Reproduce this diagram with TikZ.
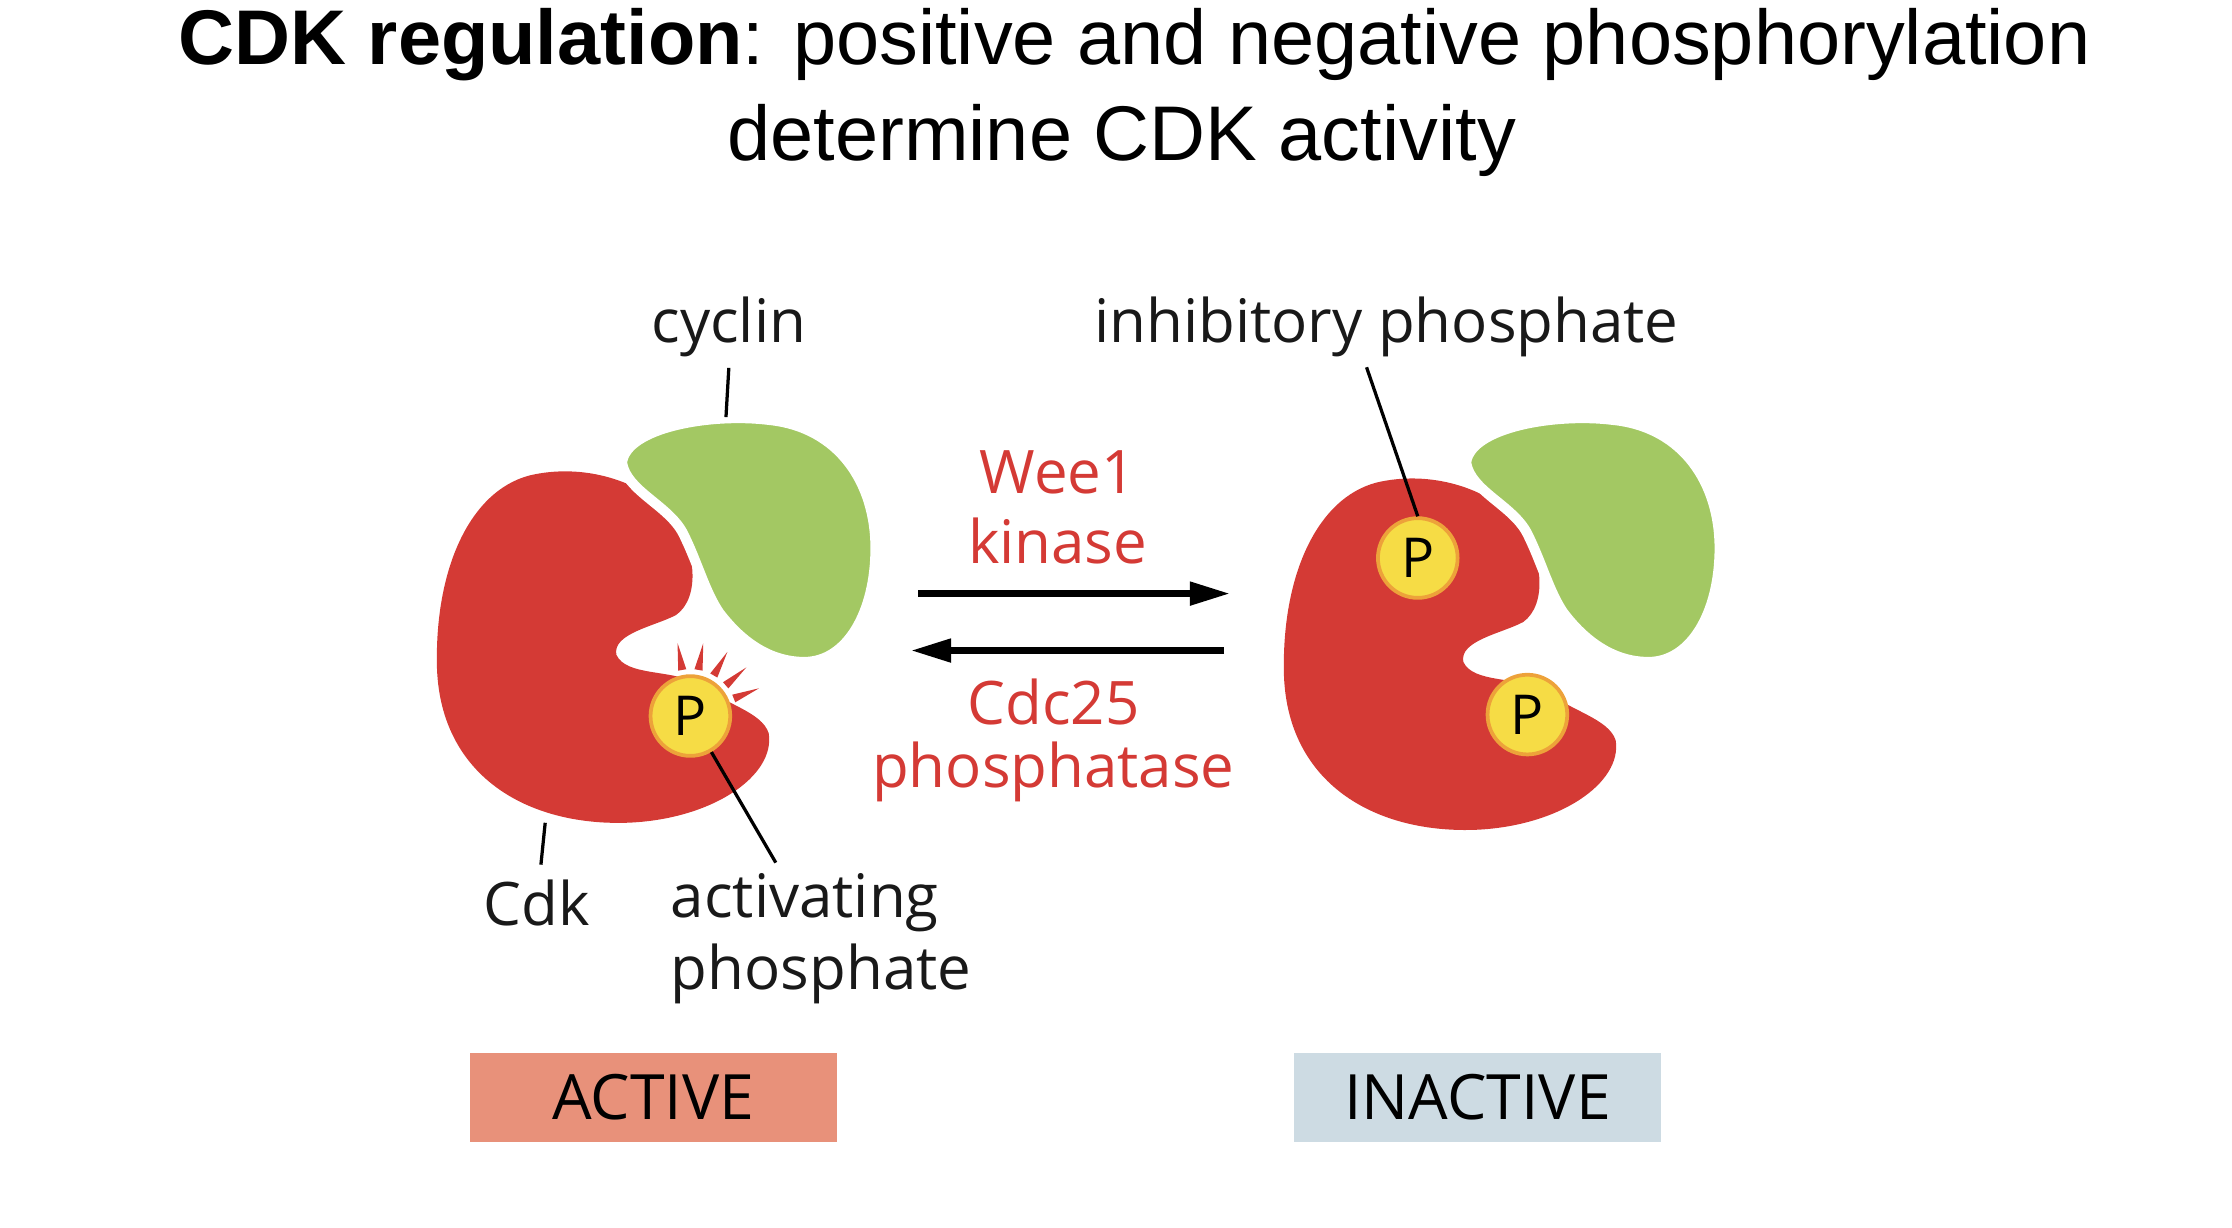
\documentclass[tikz,border=0pt]{standalone}
\usepackage{fontspec}
\setmainfont{Open Sans}
\newfontfamily\titlefont{Liberation Sans}
\usetikzlibrary{arrows.meta,calc}
\definecolor{cdkred}{HTML}{D43A35}
\definecolor{cycgreen}{HTML}{A3C863}
\definecolor{pyel}{HTML}{F6DC45}
\definecolor{porange}{HTML}{EDA23A}
\definecolor{actbox}{HTML}{E8917A}
\definecolor{inactbox}{HTML}{CDDBE3}
\definecolor{labred}{HTML}{D43A35}
\begin{document}
\begin{tikzpicture}[x=0.02cm,y=-0.02cm,
  lab/.style={font=\fontsize{24}{28}\selectfont,text=black!90,inner sep=0pt},
  redlab/.style={font=\fontsize{24}{28}\selectfont,text=labred,inner sep=0pt},
  pcirc/.style={circle,fill=pyel,draw=porange,line width=1.5pt,minimum size=1.12cm,inner sep=0pt,font=\fontsize{22}{24}\selectfont},
  leader/.style={line width=1.3pt,black},
  bigarrow/.style={line width=2.6pt,-{Triangle[length=16pt,width=9pt]}},
  statebox/.style={minimum width=5.16cm,minimum height=1.26cm,inner sep=0pt,font=\fontsize{25}{28}\selectfont}]
\useasboundingbox (0,0) rectangle (1568,862);
\node[font=\titlefont\fontsize{31}{36}\selectfont] (t1) at (797,31) {\textbf{CDK regulation}: positive and negative phosphorylation};
\node[font=\titlefont\fontsize{31}{36}\selectfont] (t2) at (788,99) {determine CDK activity};
\def\cdk{(372,334) .. controls (330,345) and (305,400) .. (307,470) .. controls (310,545) and (370,580) .. (440,578) .. controls (500,576) and (545,545) .. (540,515) .. controls (535,500) and (510,495) .. (490,480) .. controls (470,470) and (440,475) .. (433,460) .. controls (430,445) and (460,440) .. (475,432) .. controls (492,420) and (490,385) .. (470,360) .. controls (450,338) and (410,325) .. (372,334) -- cycle}
\def\cyc{(437,325) .. controls (440,300) and (500,290) .. (540,295) .. controls (590,300) and (615,340) .. (615,385) .. controls (615,430) and (595,465) .. (565,465) .. controls (540,465) and (520,450) .. (505,430) .. controls (495,415) and (490,395) .. (480,375) .. controls (470,355) and (440,345) .. (437,325) -- cycle}
\fill[cdkred] \cdk;
\filldraw[fill=cycgreen,draw=white,line width=4pt] \cyc;
\begin{scope}[shift={(595,5)}]
\fill[cdkred] \cdk;
\end{scope}
\begin{scope}[shift={(593,0)}]
\filldraw[fill=cycgreen,draw=white,line width=4pt] \cyc;
\end{scope}
\coordinate (pc) at (485,503);
\foreach \a in {-100,-80,-60,-41,-22}{
  \fill[cdkred] ($(pc)+(\a-5:33)$) -- ($(pc)+(\a:52)$) -- ($(pc)+(\a+5:33)$) -- cycle;}
\node[pcirc] (pa) at (pc) {P};
\node[pcirc] (pi1) at (996,392) {P};
\node[pcirc] (pi2) at (1073,502) {P};
\node[lab] (cyclin) at (512,230) {cyclin};
\coordinate (cyc) at (510,293);
\draw[leader] (cyclin.south) ++(0,7) -- (cyc);
\node[lab] (inh) at (974,230) {inhibitory phosphate};
\draw[leader] (960,258) -- (pi1.north);
\node[lab] (cdkl) at (377,634) {Cdk};
\coordinate (cdkp) at (383,578);
\draw[leader] (cdkl.north) ++(3,-10) -- (cdkp);
\node[lab,align=left,anchor=north west] (act) at (471,613) {activating\\[1pt]phosphate};
\draw[leader] (pa) -- (545,606);
\node[redlab] (wee) at (743,332) {Wee1};
\node[redlab] (kin) at (743,380) {kinase};
\node[redlab] (cdc) at (740,493) {Cdc25};
\node[redlab] (pho) at (740,542) {phosphatase};
\coordinate (f1) at (645,417); \coordinate (f2) at (864,417);
\coordinate (b1) at (860,457); \coordinate (b2) at (640,457);
\draw[bigarrow] (f1) -- (f2);
\draw[bigarrow] (b1) -- (b2);
\node[statebox,fill=actbox] (active) at (459,771) {ACTIVE};
\node[statebox,fill=inactbox] (inactive) at (1038,771) {INACTIVE};
\end{tikzpicture}
\end{document}
